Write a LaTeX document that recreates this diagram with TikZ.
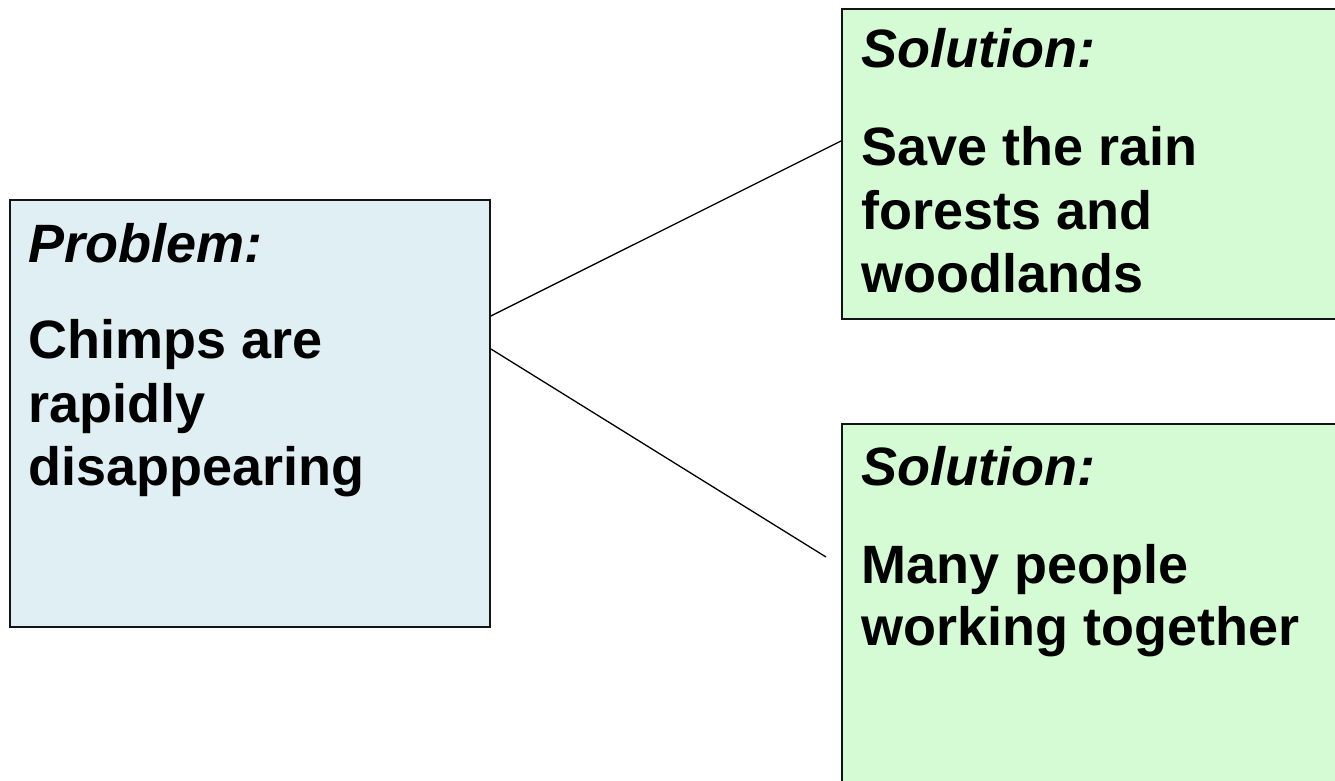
\documentclass[tikz,border=0pt]{standalone}
\usepackage{fontspec}
\setmainfont{Liberation Sans}
\usetikzlibrary{calc}
\definecolor{probfill}{RGB}{223,239,243}
\definecolor{solfill}{RGB}{213,251,213}
\definecolor{edge}{RGB}{20,20,20}
\begin{document}
\begin{tikzpicture}[x=1pt,y=-1pt,
  box/.style={draw=edge, line width=1.9pt, rectangle, inner sep=0pt, anchor=north west},
  txt/.style={anchor=base west, inner sep=0pt, font=\fontsize{54}{63.5}\selectfont\bfseries},
  head/.style={anchor=base west, inner sep=0pt, font=\fontsize{54}{63.5}\selectfont\bfseries\itshape},
  conn/.style={draw=black, line width=1.3pt}]
\clip (0,0) rectangle (1335,781);
\useasboundingbox (0,0) rectangle (1335,781);
% boxes
\node[box, fill=probfill, minimum width=480pt, minimum height=427pt] (prob) at (9,199) {};
\node[box, fill=solfill, minimum width=520pt, minimum height=310pt] (sol1) at (841,8) {};
\node[box, fill=solfill, minimum width=520pt, minimum height=420pt] (sol2) at (841,423) {};
% texts
\node[head] (ph) at (28,262) {Problem:};
\node[txt] (pt1) at (28,358) {Chimps are};
\node[txt] (pt2) at (28,422) {rapidly};
\node[txt] (pt3) at (28,485) {disappearing};
\node[head] (s1h) at (861,68) {Solution:};
\node[txt] (s1t1) at (861,165) {Save the rain};
\node[txt] (s1t2) at (861,229) {forests and};
\node[txt] (s1t3) at (861,292) {woodlands};
\node[head] (s2h) at (861,485) {Solution:};
\node[txt] (s2t1) at (861,583) {Many people};
\node[txt] (s2t2) at (861,645) {working together};
% connectors
\coordinate (p1) at ($(prob.north east)+(0,117)$);
\coordinate (q1) at ($(sol1.north west)+(0,133)$);
\coordinate (p2) at ($(prob.north east)+(0,150)$);
\coordinate (q2) at ($(sol2.north west)+(-15,134)$);
\draw[conn] (p1) -- (q1);
\draw[conn] (p2) -- (q2);
\end{tikzpicture}
\end{document}
